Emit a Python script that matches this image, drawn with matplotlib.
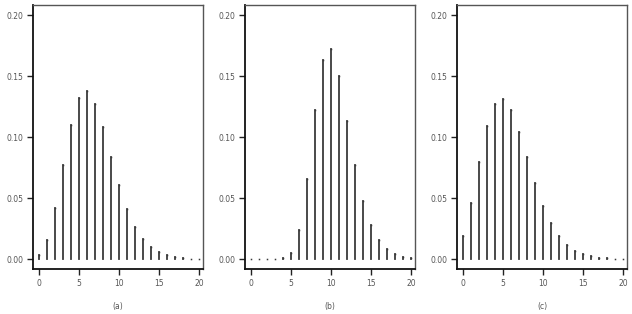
import matplotlib
matplotlib.use("Agg")
import matplotlib.pyplot as plt
import numpy as np

k = list(range(21))
pmf_a = [0.0033, 0.0158, 0.042, 0.077, 0.110, 0.132, 0.1375, 0.1276, 0.108, 0.084,
         0.061, 0.0415, 0.0268, 0.0167, 0.0098, 0.0057, 0.0033, 0.0016, 0.0010, 0.0005, 0.0003]
pmf_b = [0.0001, 0.0001, 0.0002, 0.0004, 0.0010, 0.0050, 0.024, 0.066, 0.122, 0.1634,
         0.172, 0.150, 0.1137, 0.077, 0.048, 0.028, 0.016, 0.0085, 0.0044, 0.0022, 0.0010]
pmf_c = [0.0189, 0.0464, 0.0795, 0.109, 0.127, 0.131, 0.122, 0.104, 0.0836, 0.0623,
         0.044, 0.0295, 0.0189, 0.0117, 0.0071, 0.0041, 0.0025, 0.0014, 0.0008, 0.0005, 0.0003]
panel_labels = ["(a)", "(b)", "(c)"]
xticks = [0, 5, 10, 15, 20]
yticks = [0.00, 0.05, 0.10, 0.15, 0.20]

fig = plt.figure(figsize=(6.32, 3.14), dpi=100)
W, H = 632, 314
lefts = [33, 245, 457]
width = 170
top, bottom = 5, 269

for left, pmf, lab in zip(lefts, [pmf_a, pmf_b, pmf_c], panel_labels):
    ax = fig.add_axes([left / W, 1 - bottom / H, width / W, (bottom - top) / H])
    ax.vlines(k, 0, pmf, colors="#3a3a3a", linewidth=1.3, capstyle="projecting")
    ax.plot(k, pmf, ls="none", marker="s", ms=1.1, mew=0, color="#3a3a3a")
    ax.set_xlim(-0.8, 20.5)
    ax.set_ylim(-0.008, 0.2084)
    ax.set_xticks(xticks)
    ax.set_yticks(yticks)
    ax.set_yticklabels([f"{v:.2f}" for v in yticks])
    ax.tick_params(direction="out", length=4, width=1, labelsize=5.5,
                   labelcolor="#555555", color="#222222", pad=3)
    for s in ["left", "bottom"]:
        ax.spines[s].set_color("#111111")
        ax.spines[s].set_linewidth(1.3)
    for s in ["top", "right"]:
        ax.spines[s].set_color("#555555")
        ax.spines[s].set_linewidth(1.0)
    ax.set_xlabel(lab, fontsize=5.5, color="#555555", labelpad=10)

fig.savefig("out.png", dpi=100)
